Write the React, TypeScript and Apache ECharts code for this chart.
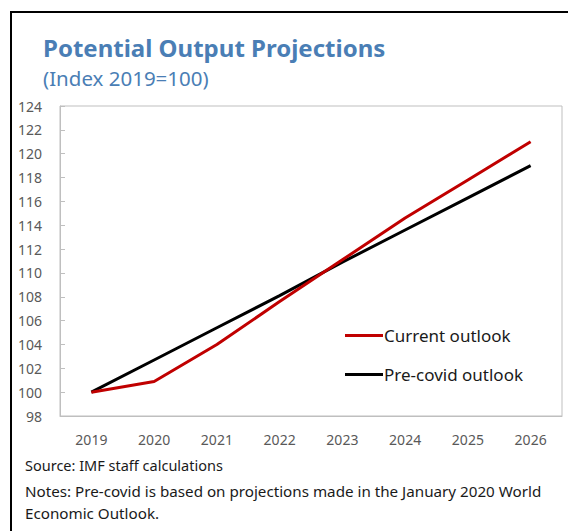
import React, { useEffect, useRef } from "react";
import * as echarts from "echarts";

const years = ["2019", "2020", "2021", "2022", "2023", "2024", "2025", "2026"];
const currentOutlook = [100, 100.9, 104.0, 107.6, 111.1, 114.6, 117.8, 121.0];
const preCovidOutlook = [100, 102.7, 105.4, 108.1, 110.9, 113.6, 116.3, 119.0];
const titleText = "Potential Output Projections";
const subtitleText = "(Index 2019=100)";
const sourceText = "Source: IMF staff calculations";
const notesLines = [
  "Notes: Pre-covid is based on projections made in the January 2020 World",
  "Economic Outlook.",
];

const FONT = "'Noto Sans', 'Open Sans', sans-serif";

export default function App() {
  const ref = useRef<HTMLDivElement>(null);
  useEffect(() => {
    if (!ref.current) return;
    const chart = echarts.init(ref.current, undefined, { renderer: "svg" });
    chart.setOption({
      animation: false,
      backgroundColor: "#fff",
      textStyle: { fontFamily: FONT },
      title: [
        {
          text: titleText,
          left: 38,
          top: 30,
          textStyle: { fontSize: 24, fontWeight: "bold", color: "#4a7eb5", fontFamily: FONT },
        },
        {
          text: subtitleText,
          left: 38,
          top: 62,
          textStyle: { fontSize: 20.5, fontWeight: "normal", color: "#4a7eb5", fontFamily: FONT },
        },
      ],
      legend: {
        orient: "vertical",
        left: 340,
        top: 322,
        itemGap: 22,
        itemWidth: 38,
        itemHeight: 3,
        icon: "rect",
        textStyle: { fontSize: 17, color: "#1a1a1a", padding: [0, 0, 0, -4] },
        data: ["Current outlook", "Pre-covid outlook"],
      },
      grid: {
        left: 60,
        top: 106,
        right: 6,
        bottom: 115,
        show: true,
        borderColor: "#bfbfbf",
        borderWidth: 1,
      },
      xAxis: {
        type: "category",
        data: years,
        boundaryGap: true,
        axisLine: { lineStyle: { color: "#bfbfbf" } },
        axisTick: { inside: true, length: 5, lineStyle: { color: "#bfbfbf" } },
        axisLabel: { fontSize: 14, color: "#595959", margin: 16 },
      },
      yAxis: {
        type: "value",
        min: 98,
        max: 124,
        interval: 2,
        splitLine: { show: false },
        axisLine: { show: true, lineStyle: { color: "#bfbfbf" } },
        axisTick: { show: true, inside: true, length: 5, lineStyle: { color: "#bfbfbf" } },
        axisLabel: { fontSize: 14, color: "#595959", margin: 18 },
      },
      series: [
        {
          name: "Current outlook",
          type: "line",
          data: currentOutlook,
          symbol: "none",
          itemStyle: { color: "#c00000" },
          lineStyle: { color: "#c00000", width: 3 },
          z: 3,
        },
        {
          name: "Pre-covid outlook",
          type: "line",
          data: preCovidOutlook,
          symbol: "none",
          itemStyle: { color: "#000000" },
          lineStyle: { color: "#000000", width: 3 },
          z: 2,
        },
      ],
      graphic: [
        { type: "line", shape: { x1: 11, y1: 12, x2: 11, y2: 531 }, style: { stroke: "#000", lineWidth: 2 } },
        { type: "line", shape: { x1: 10, y1: 12, x2: 568, y2: 12 }, style: { stroke: "#000", lineWidth: 2 } },
        {
          type: "text",
          left: 25,
          top: 457,
          style: { text: sourceText, fontSize: 14.5, fill: "#1a1a1a", fontFamily: FONT },
        },
        {
          type: "text",
          left: 25,
          top: 480,
          style: { text: notesLines.join("\n"), fontSize: 15.2, lineHeight: 22, fill: "#1a1a1a", fontFamily: FONT },
        },
      ],
    });
    return () => chart.dispose();
  }, []);
  return (
    <div
      ref={ref}
      style={{ position: "absolute", left: 0, top: 0, width: 568, height: 531 }}
    />
  );
}
